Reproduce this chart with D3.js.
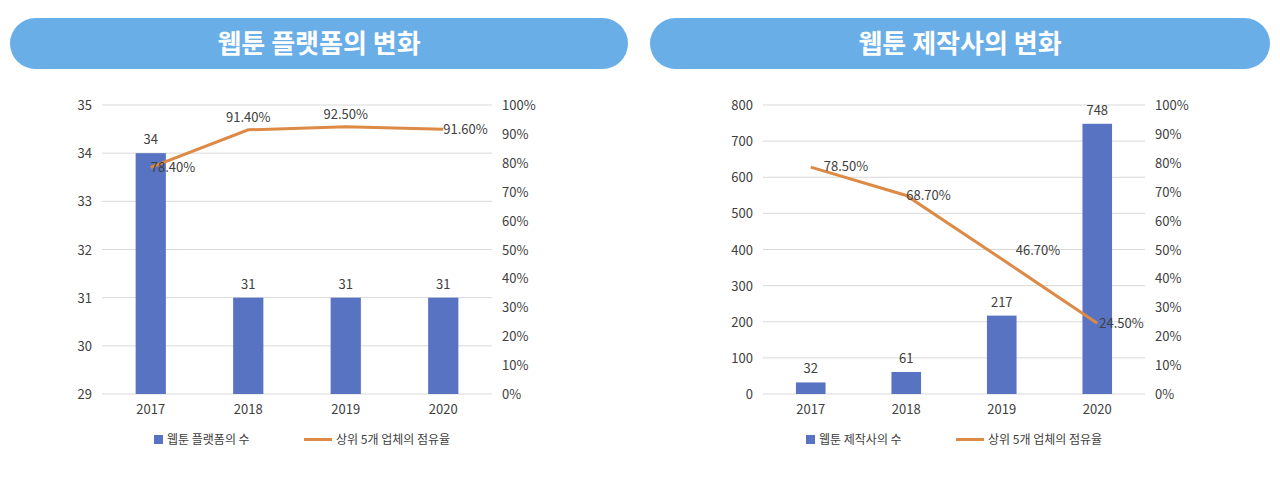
<!DOCTYPE html>
<html><head><meta charset="utf-8">
<script src="https://cdn.jsdelivr.net/npm/d3@7"></script>
<style>body{margin:0;background:#fff;font-family:"Noto Sans CJK KR","Noto Sans",sans-serif}</style>
</head><body><svg id="c" width="1280" height="489"></svg>
<script>
const years=["2017","2018","2019","2020"];
const platformCounts=[34,31,31,31];
const platformShare=[78.4,91.4,92.5,91.6];
const studioCounts=[32,61,217,748];
const studioShare=[78.5,68.7,46.7,24.5];
const leftTicks=[29,30,31,32,33,34,35];
const studioTicks=[0,100,200,300,400,500,600,700,800];
const pctTicks=[0,10,20,30,40,50,60,70,80,90,100];

const svg=d3.select("#c");
const barColor="#5873c1", lineColor="#dc8a45", txt="#404040";

function panel(o){
  const g=svg.append("g");
  g.append("rect").attr("x",o.hx).attr("y",18).attr("width",o.hw).attr("height",51).attr("rx",25.5).attr("fill","#6aaee8");
  g.append("text").attr("x",o.hx+o.hw/2).attr("y",53).attr("text-anchor","middle").attr("fill","#fff")
    .attr("font-size",26).attr("font-weight",700).text(o.title);
  const x=d3.scaleBand().domain(years).range([o.x0,o.x1]).paddingInner(0.69).paddingOuter(0.345);
  const y=d3.scaleLinear().domain(o.dom).range([394,105]);
  const y2=d3.scaleLinear().domain([0,100]).range([394,105]);
  g.selectAll(".gl").data(o.ticks).join("line").attr("x1",o.x0).attr("x2",o.x1)
    .attr("y1",d=>y(d)).attr("y2",d=>y(d)).attr("stroke","#d9d9d9");
  g.selectAll(".tl").data(o.ticks).join("text").attr("x",o.x0-10).attr("y",d=>y(d)+5)
    .attr("text-anchor","end").attr("font-size",13).attr("fill",txt).text(d=>d);
  g.selectAll(".tr").data(pctTicks).join("text").attr("x",o.x1+10).attr("y",d=>y2(d)+5)
    .attr("font-size",13).attr("fill",txt).text(d=>d+"%");
  g.selectAll(".bar").data(o.counts).join("rect").attr("x",(d,i)=>x(years[i])).attr("width",x.bandwidth())
    .attr("y",d=>y(d)).attr("height",d=>394-y(d)).attr("fill",barColor);
  g.selectAll(".bl").data(o.counts).join("text").attr("x",(d,i)=>x(years[i])+x.bandwidth()/2).attr("y",d=>y(d)-9)
    .attr("text-anchor","middle").attr("font-size",13).attr("fill",txt).text(d=>d);
  g.selectAll(".xl").data(years).join("text").attr("x",d=>x(d)+x.bandwidth()/2).attr("y",414)
    .attr("text-anchor","middle").attr("font-size",13).attr("fill",txt).text(d=>d);
  const cx=i=>x(years[i])+x.bandwidth()/2;
  g.append("path").datum(o.share).attr("fill","none").attr("stroke",lineColor).attr("stroke-width",3)
    .attr("d",d3.line().x((d,i)=>cx(i)).y(d=>y2(d)));
  g.selectAll(".ll").data(o.share).join("text").attr("x",(d,i)=>cx(i)+o.lo[i][0]).attr("y",(d,i)=>y2(d)+o.lo[i][1])
    .attr("text-anchor",(d,i)=>o.lo[i][2]).attr("font-size",13).attr("fill",txt).text(d=>d.toFixed(2)+"%");
  // legend
  const lx=o.legX;
  g.append("rect").attr("x",lx).attr("y",435).attr("width",9).attr("height",9).attr("fill",barColor);
  g.append("text").attr("x",lx+13).attr("y",444).attr("font-size",12).attr("fill",txt).text(o.leg1);
  g.append("line").attr("x1",o.legX2).attr("x2",o.legX2+28).attr("y1",439.5).attr("y2",439.5).attr("stroke",lineColor).attr("stroke-width",3);
  g.append("text").attr("x",o.legX2+32).attr("y",444).attr("font-size",12).attr("fill",txt).text("상위 5개 업체의 점유율");
}
panel({title:"웹툰 플랫폼의 변화",hx:10,hw:618,x0:102,x1:492,dom:[29,35],ticks:leftTicks,counts:platformCounts,share:platformShare,
  lo:[[0,5,"start"],[0,-8,"middle"],[0,-8,"middle"],[0,5,"start"]],legX:154,legX2:304,leg1:"웹툰 플랫폼의 수"});
panel({title:"웹툰 제작사의 변화",hx:650,hw:620,x0:763,x1:1145,dom:[0,800],ticks:studioTicks,counts:studioCounts,share:studioShare,
  lo:[[13,4,"start"],[0,5,"start"],[14,-4,"start"],[2,5,"start"]],legX:806,legX2:956,leg1:"웹툰 제작사의 수"});
</script></body></html>
